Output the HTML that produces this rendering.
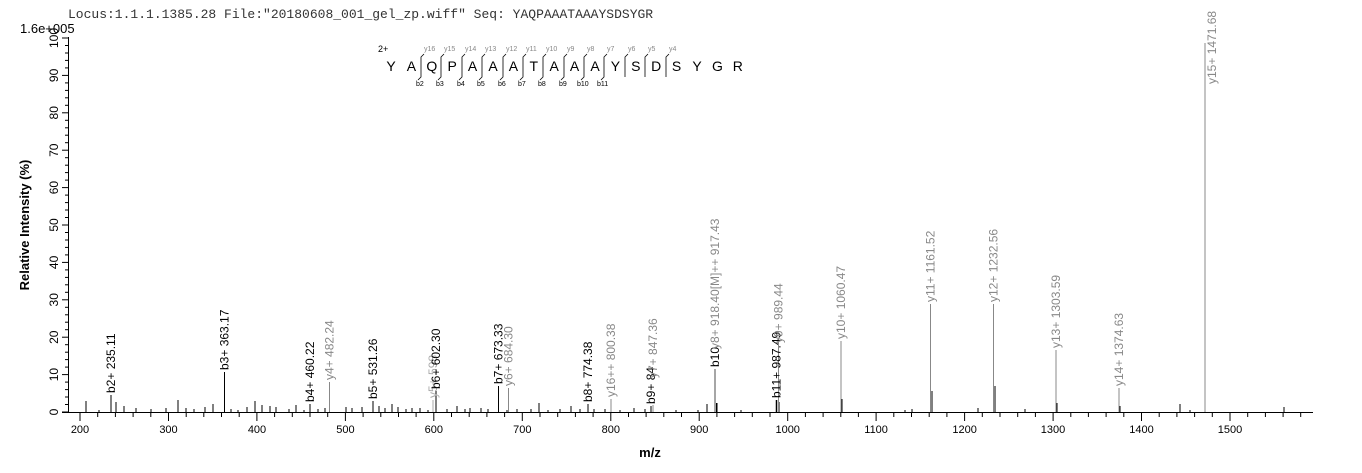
<!DOCTYPE html>
<html><head><meta charset="utf-8"><style>
html,body{margin:0;padding:0;background:#fff;}
svg{display:block;font-family:"Liberation Sans",Arial,sans-serif;}
</style></head><body>
<svg width="1362" height="473" viewBox="0 0 1362 473" xmlns="http://www.w3.org/2000/svg">
<text x="68" y="18" font-family="Liberation Mono,monospace" font-size="13" fill="#333">Locus:1.1.1.1385.28 File:"20180608_001_gel_zp.wiff"   Seq: YAQPAAATAAAYSDSYGR</text>
<text x="20" y="33" font-size="13" fill="#000">1.6e+005</text>
<text transform="translate(29,225) rotate(-90)" text-anchor="middle" font-size="13" font-weight="bold">Relative   Intensity (%)</text>
<text x="650" y="457" text-anchor="middle" font-size="13" font-weight="bold">m/z</text>
<g stroke="#000" stroke-width="1">
<line x1="68.5" y1="37" x2="68.5" y2="412"/>
<line x1="62" y1="412.5" x2="1313" y2="412.5"/>
</g>
<g id="yt" stroke="#000"></g>
<g id="xt" stroke="#000"></g>
<g font-size="12" fill="#000">
<text transform="translate(58,412) rotate(-90)" text-anchor="middle">0</text>
<text transform="translate(58,374.6) rotate(-90)" text-anchor="middle">10</text>
<text transform="translate(58,337.2) rotate(-90)" text-anchor="middle">20</text>
<text transform="translate(58,299.8) rotate(-90)" text-anchor="middle">30</text>
<text transform="translate(58,262.4) rotate(-90)" text-anchor="middle">40</text>
<text transform="translate(58,225) rotate(-90)" text-anchor="middle">50</text>
<text transform="translate(58,187.6) rotate(-90)" text-anchor="middle">60</text>
<text transform="translate(58,150.2) rotate(-90)" text-anchor="middle">70</text>
<text transform="translate(58,112.8) rotate(-90)" text-anchor="middle">80</text>
<text transform="translate(58,75.4) rotate(-90)" text-anchor="middle">90</text>
<text transform="translate(58,38) rotate(-90)" text-anchor="middle">100</text>
</g>
<g font-size="11" fill="#000" text-anchor="middle">
<text x="80" y="433">200</text><text x="168.5" y="433">300</text><text x="257" y="433">400</text><text x="345.4" y="433">500</text><text x="433.8" y="433">600</text><text x="522.3" y="433">700</text><text x="610.8" y="433">800</text><text x="699.2" y="433">900</text><text x="787.7" y="433">1000</text><text x="876.1" y="433">1100</text><text x="964.6" y="433">1200</text><text x="1053" y="433">1300</text><text x="1141.5" y="433">1400</text><text x="1230" y="433">1500</text>
</g>
<g stroke="#000" stroke-width="1">
<line x1="86" y1="412" x2="86" y2="401"/><line x1="99" y1="412" x2="99" y2="410"/><line x1="116" y1="412" x2="116" y2="402"/><line x1="124" y1="412" x2="124" y2="406"/><line x1="136" y1="412" x2="136" y2="408"/><line x1="151" y1="412" x2="151" y2="409"/><line x1="166" y1="412" x2="166" y2="408"/><line x1="178" y1="412" x2="178" y2="400"/><line x1="186" y1="412" x2="186" y2="408"/><line x1="194" y1="412" x2="194" y2="409"/><line x1="205" y1="412" x2="205" y2="407"/><line x1="213" y1="412" x2="213" y2="404"/><line x1="231" y1="412" x2="231" y2="409"/><line x1="238" y1="412" x2="238" y2="410"/><line x1="247" y1="412" x2="247" y2="407"/><line x1="255" y1="412" x2="255" y2="401"/><line x1="262" y1="412" x2="262" y2="405"/><line x1="270" y1="412" x2="270" y2="406"/><line x1="276" y1="412" x2="276" y2="407"/><line x1="289" y1="412" x2="289" y2="409"/><line x1="296" y1="412" x2="296" y2="405"/><line x1="304" y1="412" x2="304" y2="410"/><line x1="318" y1="412" x2="318" y2="409"/><line x1="325" y1="412" x2="325" y2="408"/><line x1="346" y1="412" x2="346" y2="407"/><line x1="352" y1="412" x2="352" y2="408"/><line x1="362" y1="412" x2="362" y2="407"/><line x1="379" y1="412" x2="379" y2="406"/><line x1="385" y1="412" x2="385" y2="408"/><line x1="392" y1="412" x2="392" y2="404"/><line x1="398" y1="412" x2="398" y2="407"/><line x1="406" y1="412" x2="406" y2="409"/><line x1="412" y1="412" x2="412" y2="408"/><line x1="420" y1="412" x2="420" y2="408"/><line x1="428" y1="412" x2="428" y2="410"/><line x1="447" y1="412" x2="447" y2="409"/><line x1="457" y1="412" x2="457" y2="406"/><line x1="465" y1="412" x2="465" y2="409"/><line x1="470" y1="412" x2="470" y2="408"/><line x1="481" y1="412" x2="481" y2="408"/><line x1="488" y1="412" x2="488" y2="409"/><line x1="507" y1="412" x2="507" y2="410"/><line x1="517" y1="412" x2="517" y2="409"/><line x1="531" y1="412" x2="531" y2="409"/><line x1="539" y1="412" x2="539" y2="403"/><line x1="548" y1="412" x2="548" y2="410"/><line x1="560" y1="412" x2="560" y2="409"/><line x1="571" y1="412" x2="571" y2="406"/><line x1="580" y1="412" x2="580" y2="409"/><line x1="594" y1="412" x2="594" y2="409"/><line x1="605" y1="412" x2="605" y2="409"/><line x1="620" y1="412" x2="620" y2="410"/><line x1="634" y1="412" x2="634" y2="408"/><line x1="645" y1="412" x2="645" y2="409"/><line x1="676" y1="412" x2="676" y2="410"/><line x1="698" y1="412" x2="698" y2="410"/><line x1="707" y1="412" x2="707" y2="404"/><line x1="717" y1="412" x2="717" y2="403"/><line x1="741" y1="412" x2="741" y2="410"/><line x1="779" y1="412" x2="779" y2="402"/><line x1="842" y1="412" x2="842" y2="399"/><line x1="905" y1="412" x2="905" y2="410"/><line x1="912" y1="412" x2="912" y2="409"/><line x1="932" y1="412" x2="932" y2="391"/><line x1="978" y1="412" x2="978" y2="408"/><line x1="995" y1="412" x2="995" y2="386"/><line x1="1025" y1="412" x2="1025" y2="409"/><line x1="1057" y1="412" x2="1057" y2="403"/><line x1="1120" y1="412" x2="1120" y2="406"/><line x1="1180" y1="412" x2="1180" y2="404"/><line x1="1190" y1="412" x2="1190" y2="410"/><line x1="1284" y1="412" x2="1284" y2="407"/>
</g>
<g stroke-width="1">
<line x1="111" y1="412" x2="111" y2="395" stroke="#000"/>
<line x1="224.5" y1="412" x2="224.5" y2="372" stroke="#000"/>
<line x1="310" y1="412" x2="310" y2="404" stroke="#000"/>
<line x1="329.5" y1="412" x2="329.5" y2="382" stroke="#888"/>
<line x1="373" y1="412" x2="373" y2="401" stroke="#000"/>
<line x1="433" y1="412" x2="433" y2="400" stroke="#aaa"/>
<line x1="436" y1="412" x2="436" y2="391" stroke="#000"/>
<line x1="498.5" y1="412" x2="498.5" y2="386" stroke="#000"/>
<line x1="508.5" y1="412" x2="508.5" y2="388" stroke="#888"/>
<line x1="588" y1="412" x2="588" y2="404" stroke="#000"/>
<line x1="611" y1="412" x2="611" y2="399" stroke="#888"/>
<line x1="651" y1="412" x2="651" y2="406" stroke="#000"/>
<line x1="653" y1="412" x2="653" y2="405" stroke="#888"/>
<line x1="715" y1="412" x2="715" y2="369" stroke="#888" stroke-width="1.5"/>
<line x1="716.5" y1="412" x2="716.5" y2="403" stroke="#000"/>
<line x1="776.5" y1="412" x2="776.5" y2="400" stroke="#000" stroke-width="1.5"/>
<line x1="778.5" y1="412" x2="778.5" y2="345" stroke="#888"/>
<line x1="841" y1="412" x2="841" y2="341" stroke="#888"/>
<line x1="930.5" y1="412" x2="930.5" y2="304" stroke="#888"/>
<line x1="993.5" y1="412" x2="993.5" y2="304" stroke="#888"/>
<line x1="1056" y1="412" x2="1056" y2="350" stroke="#888"/>
<line x1="1119" y1="412" x2="1119" y2="388" stroke="#888"/>
<line x1="1205" y1="412" x2="1205" y2="43" stroke="#888"/>
</g>
<g font-size="12">
<text transform="translate(115,393) rotate(-90)" fill="#000">b2+ 235.11</text>
<text transform="translate(228.5,370) rotate(-90)" fill="#000">b3+ 363.17</text>
<text transform="translate(314,402) rotate(-90)" fill="#000">b4+ 460.22</text>
<text transform="translate(333.5,380) rotate(-90)" fill="#888">y4+ 482.24</text>
<text transform="translate(377,399) rotate(-90)" fill="#000">b5+ 531.26</text>
<text transform="translate(437,398) rotate(-90)" fill="#aaa">y5+ 598</text>
<text transform="translate(440,389) rotate(-90)" fill="#000">b6+ 602.30</text>
<text transform="translate(502.5,384) rotate(-90)" fill="#000">b7+ 673.33</text>
<text transform="translate(512.5,386) rotate(-90)" fill="#888">y6+ 684.30</text>
<text transform="translate(592,402) rotate(-90)" fill="#000">b8+ 774.38</text>
<text transform="translate(615,397) rotate(-90)" fill="#888">y16++ 800.38</text>
<text transform="translate(655,404) rotate(-90)" fill="#000">b9+ 84</text>
<text transform="translate(657,378) rotate(-90)" fill="#888">y7+ 847.36</text>
<text transform="translate(719,367) rotate(-90)" fill="#000">b10</text>
<text transform="translate(719,349) rotate(-90)" fill="#888">y8+ 918.40[M]++ 917.43</text>
<text transform="translate(780.5,398) rotate(-90)" fill="#000">b11+ 987.49</text>
<text transform="translate(782.5,343) rotate(-90)" fill="#888">y9+ 989.44</text>
<text transform="translate(845,339) rotate(-90)" fill="#888">y10+ 1060.47</text>
<text transform="translate(934.5,302) rotate(-90)" fill="#888">y11+ 1161.52</text>
<text transform="translate(997.5,302) rotate(-90)" fill="#888">y12+ 1232.56</text>
<text transform="translate(1060,348) rotate(-90)" fill="#888">y13+ 1303.59</text>
<text transform="translate(1123,386) rotate(-90)" fill="#888">y14+ 1374.63</text>
<text transform="translate(1216,84) rotate(-90)" fill="#888">y15+ 1471.68</text>
</g>
<text x="378" y="52" font-size="9">2+</text>
<g font-size="14" fill="#000" text-anchor="middle">
<text x="391" y="71">Y</text><text x="411.4" y="71">A</text><text x="431.8" y="71">Q</text><text x="452.2" y="71">P</text><text x="472.6" y="71">A</text><text x="493" y="71">A</text><text x="513.4" y="71">A</text><text x="533.8" y="71">T</text><text x="554.2" y="71">A</text><text x="574.6" y="71">A</text><text x="595" y="71">A</text><text x="615.4" y="71">Y</text><text x="635.8" y="71">S</text><text x="656.2" y="71">D</text><text x="676.6" y="71">S</text><text x="697" y="71">Y</text><text x="717.4" y="71">G</text><text x="737.8" y="71">R</text>
</g>
<g stroke="#000" stroke-width="0.8" fill="none">
<path d="M418,80 l3,-3 v-20 l3,-3"/><path d="M438,80 l3,-3 v-20 l3,-3"/><path d="M459,80 l3,-3 v-20 l3,-3"/><path d="M479,80 l3,-3 v-20 l3,-3"/><path d="M500,80 l3,-3 v-20 l3,-3"/><path d="M520,80 l3,-3 v-20 l3,-3"/><path d="M540,80 l3,-3 v-20 l3,-3"/><path d="M561,80 l3,-3 v-20 l3,-3"/><path d="M581,80 l3,-3 v-20 l3,-3"/><path d="M601,80 l3,-3 v-20 l3,-3"/><path d="M625,77 v-20 l3,-3"/><path d="M645,77 v-20 l3,-3"/><path d="M666,77 v-20 l3,-3"/>
</g>
<g font-size="7" fill="#888">
<text x="424" y="51">y16</text><text x="444" y="51">y15</text><text x="465" y="51">y14</text><text x="485" y="51">y13</text><text x="506" y="51">y12</text><text x="526" y="51">y11</text><text x="546" y="51">y10</text><text x="567" y="51">y9</text><text x="587" y="51">y8</text><text x="607" y="51">y7</text><text x="628" y="51">y6</text><text x="648" y="51">y5</text><text x="669" y="51">y4</text>
</g>
<g font-size="7" fill="#000">
<text x="416" y="86">b2</text><text x="436" y="86">b3</text><text x="457" y="86">b4</text><text x="477" y="86">b5</text><text x="498" y="86">b6</text><text x="518" y="86">b7</text><text x="538" y="86">b8</text><text x="559" y="86">b9</text><text x="577" y="86">b10</text><text x="597" y="86">b11</text>
</g>
<script>
(function(){var ns="http://www.w3.org/2000/svg";
var yt=document.getElementById("yt"),xt=document.getElementById("xt");
function L(g,a,b,c,d){var l=document.createElementNS(ns,"line");l.setAttribute("x1",a);l.setAttribute("y1",b);l.setAttribute("x2",c);l.setAttribute("y2",d);g.appendChild(l);}
for(var i=0;i<=100;i+=2){var y=(412-i*3.74).toFixed(1);L(yt,i%10==0?62:65,y,68,y);}
for(var m=200;m<=1580;m+=20){var x=(80+(m-200)*0.8846).toFixed(1);L(xt,x,412,x,m%100==0?421:417);}
})();
</script>
</svg>
</body></html>
